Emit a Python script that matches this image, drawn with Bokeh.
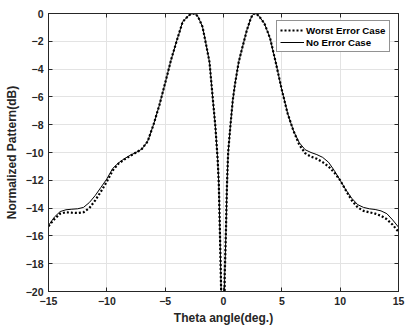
from bokeh.plotting import figure
from bokeh.models import Range1d, LinearAxis, FixedTicker, Legend, LegendItem, CustomJSTickFormatter
from bokeh.embed import file_html
from bokeh.resources import INLINE

theta = [-15, -14.5, -14, -13.5, -13, -12.5, -12, -11.5, -11, -10.5, -10, -9.5, -9,
         -8.5, -8, -7.5, -7, -6.5, -6, -5.5, -5, -4.5, -4, -3.5, -3, -2.8, -2.6, -2.4,
         -2.2, -1.8, -1.5, -1.2, -0.9, -0.7, -0.5, -0.4, -0.3, -0.2, -0.05, 0.1, 0.2,
         0.3, 0.4, 0.6, 0.8, 1.0, 1.3, 1.6, 2.0, 2.3, 2.45, 2.65, 2.85, 3.0, 3.5, 4.0,
         4.5, 5.0, 5.5, 6.0, 6.5, 7.0, 7.5, 8.0, 8.5, 9.0, 9.5, 10.0, 10.5, 11.0, 11.5,
         12.0, 12.5, 13.0, 13.5, 14.0, 14.5, 15.0]

no_error = [-15.25, -14.65, -14.25, -14.12, -14.08, -14.05, -13.95, -13.6, -13.1, -12.5,
            -11.9, -11.15, -10.75, -10.45, -10.2, -10.0, -9.75, -9.2, -8.0, -6.6, -5.0,
            -3.35, -1.94, -0.6, -0.15, -0.04, 0.0, -0.05, -0.2, -0.95, -2.2, -3.5, -6.3,
            -8.1, -10.5, -12.3, -16.0, -20.0, -40.0, -19.0, -16.0, -12.3, -10.0, -8.0,
            -6.2, -5.0, -3.5, -2.5, -1.2, -0.45, -0.15, 0.0, -0.05, -0.15, -0.7, -1.8,
            -3.6, -5.5, -7.2, -8.45, -9.3, -9.8, -10.0, -10.15, -10.35, -10.7, -11.3,
            -12.0, -12.7, -13.3, -13.75, -13.95, -14.05, -14.1, -14.2, -14.4, -14.85,
            -15.37]

worst_error = [-15.3, -14.8, -14.4, -14.3, -14.33, -14.35, -14.3, -14.0, -13.45, -12.8,
               -12.1, -11.3, -10.8, -10.5, -10.25, -10.0, -9.75, -9.2, -8.0, -6.6, -5.0,
               -3.35, -1.94, -0.6, -0.15, -0.04, 0.0, -0.05, -0.2, -0.95, -2.2, -3.5,
               -6.3, -8.1, -10.5, -12.3, -16.0, -20.0, -40.0, -19.0, -16.0, -12.3, -10.0,
               -8.0, -6.2, -5.0, -3.5, -2.5, -1.2, -0.45, -0.15, 0.0, -0.05, -0.15, -0.7,
               -1.8, -3.6, -5.5, -7.2, -8.45, -9.45, -10.05, -10.3, -10.45, -10.7, -11.0,
               -11.45, -12.0, -12.75, -13.45, -13.95, -14.2, -14.3, -14.4, -14.55, -14.8,
               -15.2, -15.7]

x_ticks = [-15, -10, -5, 0, 5, 10, 15]
y_ticks = [-20, -18, -16, -14, -12, -10, -8, -6, -4, -2, 0]
x_label = "Theta angle(deg.)"
y_label = "Normalized Pattern(dB)"
series_names = ["Worst Error Case", "No Error Case"]

FONT = "Liberation Sans"
AX = "#262626"

p = figure(width=406, height=328, output_backend="svg", toolbar_location=None,
           x_range=Range1d(-15, 15), y_range=Range1d(-20, 0),
           min_border_left=48, min_border_right=8, min_border_top=13, min_border_bottom=37)
p.outline_line_color = AX
p.outline_line_width = 1
p.background_fill_color = "white"
p.border_fill_color = "white"

for ax, ticks in ((p.xaxis[0], x_ticks), (p.yaxis[0], y_ticks)):
    ax.ticker = FixedTicker(ticks=ticks)
    ax.major_tick_in = 4
    ax.major_tick_out = 0
    ax.minor_tick_line_color = None
    ax.axis_line_color = AX
    ax.major_tick_line_color = AX
    ax.major_label_text_font = FONT
    ax.major_label_text_font_style = "bold"
    ax.major_label_text_font_size = "10.5px"
    ax.major_label_text_color = AX
    ax.axis_label_text_font = FONT
    ax.axis_label_text_font_style = "bold"
    ax.axis_label_text_font_size = "12px"
    ax.axis_label_text_color = AX
p.xaxis[0].axis_label = x_label
p.yaxis[0].axis_label = y_label
p.xaxis[0].major_label_standoff = 5
p.yaxis[0].major_label_standoff = 5
p.xaxis[0].axis_label_standoff = 3
p.yaxis[0].axis_label_standoff = 4

blank = CustomJSTickFormatter(code="return '';")
for loc, ticks in (("right", y_ticks), ("above", x_ticks)):
    a = LinearAxis(ticker=FixedTicker(ticks=ticks), major_tick_in=4, major_tick_out=0,
                   minor_tick_line_color=None, axis_line_color=AX, major_tick_line_color=AX,
                   formatter=blank, major_label_standoff=0)
    p.add_layout(a, loc)

p.xgrid.ticker = FixedTicker(ticks=x_ticks)
p.ygrid.ticker = FixedTicker(ticks=y_ticks)
for g in (p.xgrid[0], p.ygrid[0]):
    g.grid_line_color = "#e3e3e3"
    g.grid_line_width = 1

r_worst = p.line(theta, worst_error, line_color="black", line_width=2.2, line_dash="2 2")
r_no = p.line(theta, no_error, line_color="black", line_width=1)

legend = Legend(items=[LegendItem(label=series_names[0], renderers=[r_worst]),
                       LegendItem(label=series_names[1], renderers=[r_no])],
                location=(228, 239))
legend.label_text_font = FONT
legend.label_text_font_style = "bold"
legend.label_text_font_size = "9.7px"
legend.label_text_color = "black"
legend.label_height = 12
legend.glyph_height = 12
legend.glyph_width = 24
legend.label_standoff = 2
legend.spacing = 0
legend.padding = 3
legend.margin = 0
legend.border_line_color = AX
legend.border_line_width = 1
legend.background_fill_color = "white"
legend.background_fill_alpha = 1
p.add_layout(legend, "center")

open("out.html", "w").write(file_html(p, INLINE))
